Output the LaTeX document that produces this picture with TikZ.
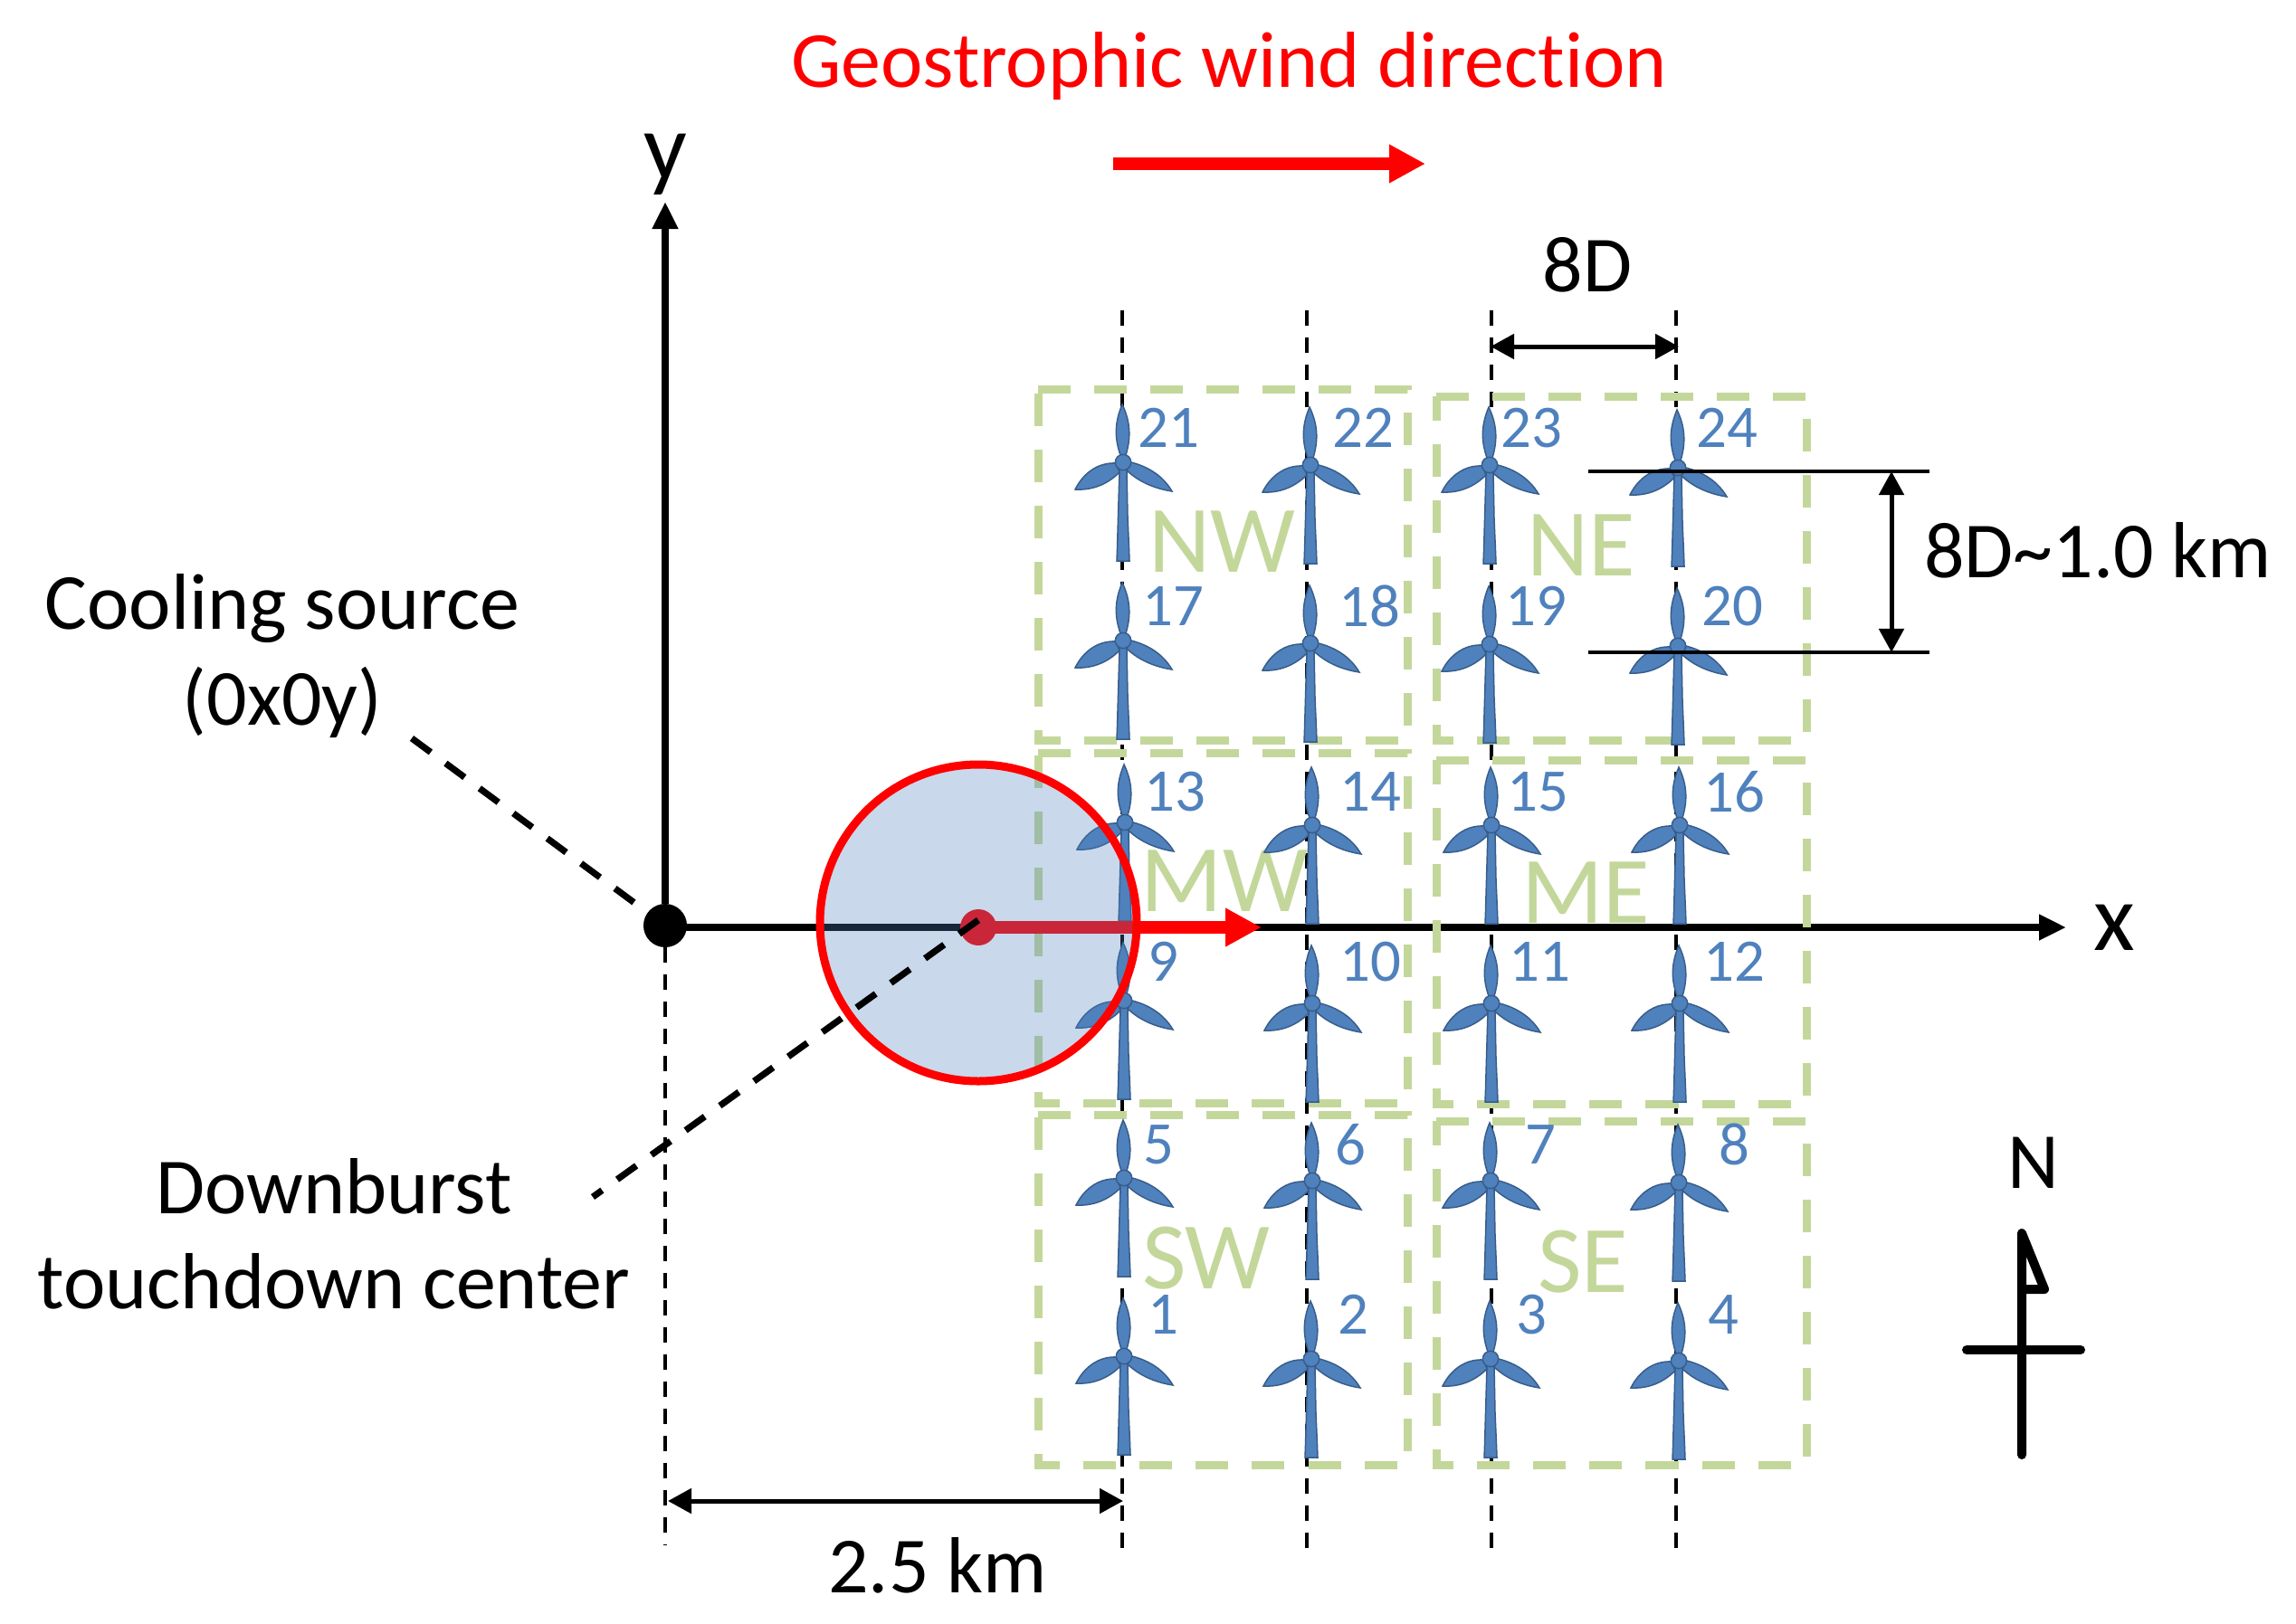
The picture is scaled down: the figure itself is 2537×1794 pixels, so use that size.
\documentclass[tikz,border=0pt]{standalone}
\usepackage{fontspec}
\setmainfont[Ligatures=NoCommon]{Carlito}
\usetikzlibrary{positioning,arrows.meta}
\definecolor{bladeblue}{HTML}{4F81BD}
\definecolor{bladeedge}{HTML}{385D8A}
\definecolor{zonegreen}{HTML}{C4D79B}

\begin{document}
\begin{tikzpicture}[
    x=0.01cm, y=-0.01cm,
    every node/.style={inner sep=0pt, outer sep=0pt},
    lab/.style={font=\fontsize{25}{30}\selectfont, align=center},
    axlab/.style={font=\fontsize{30}{34}\selectfont},
    num/.style={font=\fontsize{19}{22}\selectfont, text=bladeblue},
    zone/.style={font=\fontsize{30}{34}\selectfont, text=zonegreen},
    zonebox/.style={draw=zonegreen, line width=0.09cm, dash pattern=on 0.36cm off 0.26cm},
    gridline/.style={draw=black, line width=0.042cm, dash pattern=on 0.17cm off 0.13cm},
    leader/.style={draw=black, line width=0.072cm, dash pattern=on 0.26cm off 0.205cm},
    axis/.style={draw=black, line width=0.075cm, -{Triangle[length=0.3cm,width=0.27cm]}},
    windarrow/.style={draw=red, line width=0.135cm, -{Triangle[length=0.4cm,width=0.4cm]}},
    dimen/.style={draw=black, line width=0.05cm, {Triangle[length=0.26cm,width=0.27cm]}-{Triangle[length=0.26cm,width=0.27cm]}},
    extline/.style={draw=black, line width=0.045cm},
    part/.style={fill=bladeblue, draw=bladeedge, line width=0.015cm},
    turbine/.pic={
      \path[part] (-4,8) -- (-5.5,60) -- (-6.5,95) -- (-7,109) -- (7,109) -- (6.5,95) -- (5,60) -- (4,8) -- cycle;
      \path[part] (-3,-8) .. controls (-10,-28) and (-9,-45) .. (-1,-64) .. controls (8,-45) and (9,-28) .. (3,-8) -- cycle;
      \path[part] (-8,1) .. controls (-28,0) and (-44,12) .. (-53,30) .. controls (-35,31) and (-18,25) .. (-4,11) -- cycle;
      \path[part] (9,0) .. controls (28,5) and (44,15) .. (54,32) .. controls (35,29) and (18,22) .. (4,9) -- cycle;
      \path[part] (0,0) circle (8.7);
    },
  ]
  \useasboundingbox[fill=white] (0,0) rectangle (2537,1794);

  % Column guides
  \coordinate (g1t) at (1240,343);  \coordinate (g1b) at (1240,1712);
  \coordinate (g2t) at (1444,343);  \coordinate (g2b) at (1444,1712);
  \coordinate (g3t) at (1648,343);  \coordinate (g3b) at (1648,1712);
  \coordinate (g4t) at (1852,343);  \coordinate (g4b) at (1852,1712);
  \coordinate (g0b) at (735,1708);
  \draw[gridline] (g1t) -- (g1b);
  \draw[gridline] (g2t) -- (g2b);
  \draw[gridline] (g3t) -- (g3b);
  \draw[gridline] (g4t) -- (g4b);

  % Axes
  \node[circle, fill=black, minimum size=0.48cm] (origin) at (735,1023) {};
  \coordinate (xstart) at (735,1025);
  \coordinate (xend) at (2283,1025);
  \coordinate (yend) at (735,223);
  \draw[gridline] (origin) -- (g0b);
  \draw[axis] (xstart) -- (xend);
  \draw[axis] (origin) -- (yend);

  % Zones
  \draw[zonebox] (1147,430) -| (1555,818) -| (1147,430);
  \draw[zonebox] (1587,438) -| (1996,818) -| (1587,438);
  \draw[zonebox] (1147,832) -| (1555,1219) -| (1147,832);
  \draw[zonebox] (1587,840) -| (1996,1220) -| (1587,840);
  \draw[zonebox] (1147,1232) -| (1555,1619) -| (1147,1232);
  \draw[zonebox] (1587,1239) -| (1996,1619) -| (1587,1239);
  \node[zone] (nw) at (1350,599) {NW};
  \node[zone] (ne) at (1747,603) {NE};
  \node[zone] (mw) at (1353,974) {MW};
  \node[zone] (me) at (1752,987) {ME};
  \node[zone] (sw) at (1333,1391) {SW};
  \node[zone] (se) at (1749,1395) {SE};

  % Turbines
  \pic (t21) at (1241,511) {turbine};
  \pic (t22) at (1448,514) {turbine};
  \pic (t23) at (1646,514) {turbine};
  \pic (t24) at (1854,517) {turbine};
  \pic (t17) at (1241,708) {turbine};
  \pic (t18) at (1448,711) {turbine};
  \pic (t19) at (1646,712) {turbine};
  \pic (t20) at (1854,714) {turbine};
  \pic (t13) at (1243,909) {turbine};
  \pic (t14) at (1450,912) {turbine};
  \pic (t15) at (1648,912) {turbine};
  \pic (t16) at (1856,912) {turbine};
  \pic (t9) at (1242,1106) {turbine};
  \pic (t10) at (1450,1109) {turbine};
  \pic (t11) at (1648,1109) {turbine};
  \pic (t12) at (1856,1109) {turbine};
  \pic (t5) at (1242,1302) {turbine};
  \pic (t6) at (1450,1305) {turbine};
  \pic (t7) at (1647,1305) {turbine};
  \pic (t8) at (1855,1307) {turbine};
  \pic (t1) at (1242,1499) {turbine};
  \pic (t2) at (1449,1502) {turbine};
  \pic (t3) at (1647,1502) {turbine};
  \pic (t4) at (1855,1504) {turbine};

  % Turbine numbers
  \node[num] (n21) at (1291,473) {21};
  \node[num] (n22) at (1506,473) {22};
  \node[num] (n23) at (1692,473) {23};
  \node[num] (n24) at (1908,473) {24};
  \node[num] (n17) at (1296,670) {17};
  \node[num] (n18) at (1513,670) {18};
  \node[num] (n19) at (1697,670) {19};
  \node[num] (n20) at (1914,670) {20};
  \node[num] (n13) at (1298,875) {13};
  \node[num] (n14) at (1514,875) {14};
  \node[num] (n15) at (1699,875) {15};
  \node[num] (n16) at (1916,875) {16};
  \node[num] (n9) at (1285,1063) {9};
  \node[num] (n10) at (1514,1063) {10};
  \node[num] (n11) at (1701,1063) {11};
  \node[num] (n12) at (1916,1063) {12};
  \node[num] (n5) at (1280,1265) {5};
  \node[num] (n6) at (1492,1265) {6};
  \node[num] (n7) at (1702,1265) {7};
  \node[num] (n8) at (1916,1265) {8};
  \node[num] (n1) at (1285,1453) {1};
  \node[num] (n2) at (1495,1453) {2};
  \node[num] (n3) at (1692,1453) {3};
  \node[num] (n4) at (1904,1453) {4};

  % Downburst
  \coordinate (center) at (1081,1025);
  \coordinate (burstc) at (1081,1017);
  \coordinate (tip) at (1394,1025);
  \fill[red] (center) circle (20);
  \draw[windarrow] (center) -- (tip);
  \fill[bladeblue, fill opacity=0.3] (1081,1020) circle (175);
  \draw[red, line width=0.09cm] (1081,1020) circle (175);

  % Labels and leaders
  \node[lab, text=red] (geo) at (1358,73) {Geostrophic wind direction};
  \coordinate (windl) at (1230,181);
  \coordinate (windr) at (1575,181);
  \draw[windarrow] (windl) -- (windr);
  \node[lab] (cool) at (312,725) {Cooling source\\(0x0y)};
  \node[lab] (burst) at (369,1364) {Downburst\\touchdown center};
  \coordinate (coola) at (455,816);
  \coordinate (bursta) at (655,1323);
  \draw[leader] (coola) -- (origin);
  \draw[leader] (burstc) -- (bursta);
  \node[axlab, right=0.30cm of xend] (xlab) {x};
  \node[axlab, above=0.07cm of yend] (ylab) {y};

  % Dimensions
  \coordinate (da) at (738,1659);
  \coordinate (db) at (1241,1659);
  \draw[dimen] (da) -- (db);
  \node[lab] (dist) at (1036,1730) {2.5 km};
  \coordinate (sa) at (1647,383);
  \coordinate (sb) at (1855,383);
  \draw[dimen] (sa) -- (sb);
  \node[lab] (sp) at (1754,293) {8D};
  \coordinate (ra) at (1755,521);
  \coordinate (rb) at (2132,521);
  \coordinate (rc) at (1755,721);
  \coordinate (rd) at (2132,721);
  \coordinate (re) at (2090,521);
  \coordinate (rf) at (2090,721);
  \draw[extline] (ra) -- (rb);
  \draw[extline] (rc) -- (rd);
  \draw[dimen] (re) -- (rf);
  \node[lab] (rowsp) at (2318,608) {8D\textasciitilde1.0 km};

  % North sign
  \node[lab] (north) at (2247,1285) {N};
  \coordinate (na) at (2234,1363);
  \coordinate (nb) at (2234,1608);
  \coordinate (nc) at (2259,1425);
  \coordinate (nd) at (2234,1425);
  \coordinate (ne1) at (2173,1492);
  \coordinate (ne2) at (2299,1492);
  \draw[line width=0.1cm, line cap=round, line join=round] (nb) -- (na) -- (nc) -- (nd);
  \draw[line width=0.1cm, line cap=round] (ne1) -- (ne2);
\end{tikzpicture}
\end{document}
